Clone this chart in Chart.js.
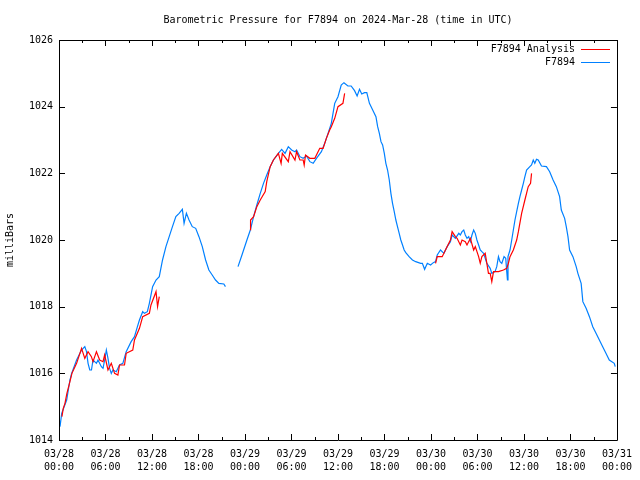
<!DOCTYPE html>
<html>
<head>
<meta charset="utf-8">
<script src="https://cdn.jsdelivr.net/npm/chart.js@4"></script>
<style>
  body { margin: 0; background: #fff; }
</style>
</head>
<body>
<canvas id="chart" width="640" height="480"></canvas>
<script>
// hours since 2024-03-28 00:00 UTC, pressure in mbar (null = gap in the record)
var blueHours = [0.13, 0.35, 0.99, 1.41, 1.63, 2.27, 2.91, 3.33, 3.55, 3.75, 3.97, 4.19, 4.39, 4.83, 5.03, 5.47, 5.68, 5.89, 6.11, 6.32, 6.53, 6.75, 6.96, 7.39, 7.81, 8.24, 8.67, 9.31, 9.74, 10.12, 10.38, 10.80, 11.02, 11.40, 11.66, 12.08, 12.52, 12.94, 13.36, 13.80, 14.22, 14.64, 15.08, 15.50, 15.92, 16.14, 16.44, 16.78, 17.20, 17.64, 18.06, 18.49, 18.92, 19.34, 19.77, 20.20, 20.63, 21.27, 21.48,
  22.3,
  23.10, 23.61, 24.25, 24.69, 25.11, 25.53, 25.97, 26.39, 26.81, 27.25, 27.67, 28.31, 28.73, 29.17, 29.59, 30.02, 30.45, 30.66, 31.09, 31.51, 31.94, 32.37, 32.80, 33.22, 33.86, 34.29, 34.72, 35.14, 35.36, 35.58, 36.00, 36.42, 36.77, 37.28, 37.70, 38.14, 38.47, 38.78, 39.07, 39.42, 39.72, 40.06, 40.48, 40.90, 41.12, 41.34, 41.55, 41.76, 41.98, 42.18, 42.40, 42.62, 42.83, 43.04, 43.26, 43.47, 43.68, 43.90, 44.11, 44.33, 44.54, 44.75, 45.18, 45.61, 46.03, 46.67, 46.89, 47.18, 47.53, 47.95, 48.30, 48.59, 48.81, 49.23, 49.67, 50.09, 50.51, 50.73, 51.15, 51.59, 51.79, 52.01, 52.23, 52.43, 52.65, 52.87, 53.08, 53.29, 53.51, 53.72, 53.93, 54.15, 54.36, 54.57, 54.79, 55.21, 55.64, 55.85, 56.27, 56.49, 56.71, 56.91, 57.14, 57.43, 57.65, 57.78, 57.87, 57.94, 58.20, 58.42, 58.63, 58.84, 59.06, 59.28, 59.48, 59.70, 59.92, 60.12, 60.34, 60.76, 60.98, 61.20, 61.40, 61.62, 61.84, 62.26, 62.90, 63.32, 63.76, 64.18, 64.60, 64.82, 65.25, 65.46, 65.68, 65.89, 66.32, 66.74, 66.96, 67.38, 67.60, 68.02, 68.45, 68.88, 69.30, 69.73, 70.16, 70.58, 71.01, 71.65, 71.78];
var blueValues = [1014.4, 1014.8, 1015.2, 1015.8, 1016.0, 1016.4, 1016.7, 1016.8, 1016.65, 1016.3, 1016.1, 1016.1, 1016.4, 1016.3, 1016.4, 1016.2, 1016.15, 1016.4, 1016.7, 1016.45, 1016.15, 1016.0, 1016.1, 1016.05, 1016.25, 1016.3, 1016.65, 1016.95, 1017.1, 1017.4, 1017.6, 1017.85, 1017.8, 1017.85, 1018.1, 1018.6, 1018.8, 1018.9, 1019.4, 1019.8, 1020.1, 1020.4, 1020.7, 1020.8, 1020.92, 1020.5, 1020.8, 1020.6, 1020.4, 1020.35, 1020.1, 1019.8, 1019.4, 1019.1, 1018.95, 1018.8, 1018.7, 1018.68, 1018.6,
  null,
  1019.2, 1019.55, 1020.0, 1020.3, 1020.7, 1021.05, 1021.4, 1021.7, 1021.95, 1022.2, 1022.4, 1022.6, 1022.72, 1022.6, 1022.8, 1022.7, 1022.65, 1022.7, 1022.5, 1022.45, 1022.52, 1022.35, 1022.3, 1022.45, 1022.65, 1022.9, 1023.2, 1023.5, 1023.8, 1024.1, 1024.3, 1024.65, 1024.72, 1024.62, 1024.62, 1024.48, 1024.32, 1024.52, 1024.38, 1024.42, 1024.42, 1024.1, 1023.9, 1023.7, 1023.4, 1023.2, 1022.95, 1022.85, 1022.6, 1022.3, 1022.1, 1021.8, 1021.4, 1021.1, 1020.85, 1020.6, 1020.4, 1020.2, 1020.0, 1019.85, 1019.7, 1019.62, 1019.5, 1019.4, 1019.35, 1019.3, 1019.3, 1019.12, 1019.3, 1019.25, 1019.32, 1019.35, 1019.55, 1019.7, 1019.6, 1019.8, 1019.95, 1020.15, 1020.05, 1020.2, 1020.15, 1020.25, 1020.3, 1020.15, 1020.05, 1020.1, 1019.95, 1020.15, 1020.3, 1020.2, 1020.0, 1019.85, 1019.7, 1019.65, 1019.6, 1019.3, 1019.15, 1019.0, 1019.05, 1019.2, 1019.5, 1019.35, 1019.3, 1019.5, 1019.45, 1019.05, 1018.8, 1019.5, 1019.7, 1020.0, 1020.3, 1020.6, 1020.85, 1021.1, 1021.3, 1021.5, 1021.7, 1021.9, 1022.1, 1022.2, 1022.25, 1022.4, 1022.3, 1022.42, 1022.4, 1022.22, 1022.2, 1022.05, 1021.8, 1021.6, 1021.3, 1020.9, 1020.65, 1020.4, 1020.1, 1019.7, 1019.5, 1019.2, 1019.0, 1018.7, 1018.15, 1017.95, 1017.7, 1017.4, 1017.2, 1017.0, 1016.8, 1016.6, 1016.4, 1016.3, 1016.2];

var redHours = [0.38, 0.55, 0.77, 1.02, 1.41, 1.67, 2.27, 2.91, 3.33, 3.75, 4.18, 4.39, 4.83, 5.25, 5.68, 5.89, 6.32, 6.75, 7.17, 7.60, 7.81, 8.45, 8.67, 9.52, 9.74, 10.38, 10.80, 11.66, 11.87, 12.52, 12.72, 12.94,
  18.0,
  24.69, 24.72, 25.11, 25.53, 25.97, 26.61, 26.81, 27.25, 27.67, 28.31, 28.66, 28.82, 29.59, 29.81, 30.45, 30.66, 31.09, 31.51, 31.64, 31.81, 32.37, 33.01, 33.65, 34.08, 34.50, 34.93, 35.14, 35.58, 36.00, 36.64, 36.86,
  42.0,
  48.59, 48.81, 49.45, 49.87, 50.51, 50.73, 51.15, 51.37, 51.79, 52.01, 52.43, 52.65, 53.08, 53.51, 53.72, 54.15, 54.36, 54.57, 55.00, 55.21, 55.42, 55.64, 55.85, 56.07, 56.71, 57.35, 57.78, 57.99, 58.20, 58.63, 59.06, 59.28, 59.70, 60.12, 60.55, 60.85, 60.98];
var redValues = [1014.7, 1014.95, 1015.1, 1015.4, 1015.75, 1016.0, 1016.3, 1016.75, 1016.45, 1016.65, 1016.5, 1016.35, 1016.65, 1016.4, 1016.35, 1016.55, 1016.1, 1016.3, 1016.0, 1015.95, 1016.25, 1016.25, 1016.6, 1016.7, 1017.0, 1017.35, 1017.7, 1017.8, 1018.05, 1018.45, 1018.0, 1018.3,
  null,
  1020.3, 1020.6, 1020.7, 1021.0, 1021.2, 1021.45, 1021.75, 1022.2, 1022.4, 1022.6, 1022.3, 1022.6, 1022.35, 1022.65, 1022.4, 1022.65, 1022.4, 1022.4, 1022.25, 1022.55, 1022.45, 1022.45, 1022.75, 1022.75, 1023.05, 1023.3, 1023.4, 1023.65, 1024.0, 1024.1, 1024.4,
  null,
  1019.3, 1019.5, 1019.5, 1019.7, 1020.0, 1020.25, 1020.1, 1020.05, 1019.85, 1020.0, 1019.95, 1019.85, 1020.05, 1019.7, 1019.8, 1019.5, 1019.3, 1019.5, 1019.6, 1019.3, 1019.0, 1019.0, 1018.75, 1019.05, 1019.05, 1019.1, 1019.15, 1019.3, 1019.5, 1019.7, 1020.0, 1020.25, 1020.8, 1021.2, 1021.6, 1021.7, 1022.0];

var xTickDates = ["03/28", "03/28", "03/28", "03/28", "03/29", "03/29", "03/29", "03/29", "03/30", "03/30", "03/30", "03/30", "03/31"];
var xTickTimes = ["00:00", "06:00", "12:00", "18:00", "00:00", "06:00", "12:00", "18:00", "00:00", "06:00", "12:00", "18:00", "00:00"];
var yTicks = [1014, 1016, 1018, 1020, 1022, 1024, 1026];

var MONO = '"DejaVu Sans Mono", "Liberation Mono", monospace';

function toPoints(hours, values) {
  return hours.map(function (h, i) { return { x: h, y: values[i] }; });
}

// gnuplot-style frame, inward ticks, title and legend
var gnuplotLook = {
  id: 'gnuplotLook',
  afterDatasetsDraw: function (chart) {
    var ctx = chart.ctx, a = chart.chartArea;
    var xs = chart.scales.x, ys = chart.scales.y;
    ctx.save();
    ctx.strokeStyle = '#000';
    ctx.lineWidth = 1;
    ctx.beginPath();
    ctx.rect(Math.round(a.left) + 0.5, Math.round(a.top) + 0.5, Math.round(a.right - a.left), Math.round(a.bottom - a.top));
    // x ticks every 3h, major every 6h
    for (var h = 0; h <= 72; h += 3) {
      var px = Math.round(xs.getPixelForValue(h)) + 0.5;
      var len = (h % 6 === 0) ? 6 : 3;
      ctx.moveTo(px, a.bottom); ctx.lineTo(px, a.bottom - len);
      ctx.moveTo(px, a.top); ctx.lineTo(px, a.top + len);
    }
    yTicks.forEach(function (v) {
      var py = Math.round(ys.getPixelForValue(v)) + 0.5;
      ctx.moveTo(a.left, py); ctx.lineTo(a.left + 6, py);
      ctx.moveTo(a.right, py); ctx.lineTo(a.right - 6, py);
    });
    ctx.stroke();
    ctx.restore();
  },
  afterDraw: function (chart) {
    var ctx = chart.ctx, a = chart.chartArea;
    ctx.save();
    ctx.fillStyle = '#000';
    ctx.font = '10px ' + MONO;
    ctx.textBaseline = 'middle';
    ctx.textAlign = 'center';
    ctx.fillText('Barometric Pressure for F7894 on 2024-Mar-28 (time in UTC)', (a.left + a.right) / 2, 20);
    // legend: text right-aligned, sample line to the right
    chart.data.datasets.forEach(function (ds, i) {
      var y = 49.5 + i * 13;
      ctx.textAlign = 'right';
      ctx.fillStyle = '#000';
      ctx.fillText(ds.label, 575, y);
      ctx.strokeStyle = ds.borderColor;
      ctx.lineWidth = 1;
      ctx.beginPath();
      ctx.moveTo(581, y); ctx.lineTo(610, y);
      ctx.stroke();
    });
    ctx.restore();
  }
};

new Chart(document.getElementById('chart'), {
  type: 'line',
  data: {
    datasets: [{
      label: 'F7894 Analysis',
      data: toPoints(redHours, redValues),
      borderColor: 'rgb(255,0,0)',
      borderWidth: 1.2,
      pointRadius: 0,
      tension: 0
    }, {
      label: 'F7894',
      data: toPoints(blueHours, blueValues),
      borderColor: 'rgb(0,128,255)',
      borderWidth: 1.2,
      pointRadius: 0,
      tension: 0
    }]
  },
  options: {
    responsive: false,
    animation: false,
    layout: { padding: { top: 40, right: 19, left: 0, bottom: 0 } },
    plugins: {
      legend: { display: false },
      title: { display: false },
      tooltip: { enabled: false }
    },
    scales: {
      x: {
        type: 'linear',
        min: 0,
        max: 72,
        grid: { display: false, drawTicks: false },
        border: { display: false },
        afterFit: function (s) { s.height = 40; },
        afterBuildTicks: function (s) {
          s.ticks = xTickDates.map(function (d, i) { return { value: i * 6 }; });
        },
        ticks: {
          maxRotation: 0,
          autoSkip: false,
          padding: 8,
          color: '#000',
          font: { family: MONO, size: 10, lineHeight: 1.3 },
          callback: function (v) {
            var i = Math.round(v / 6);
            return [xTickDates[i], xTickTimes[i]];
          }
        }
      },
      y: {
        min: 1014,
        max: 1026,
        grid: { display: false, drawTicks: false },
        border: { display: false },
        afterFit: function (s) { s.width = 59; },
        afterBuildTicks: function (s) {
          s.ticks = yTicks.map(function (v) { return { value: v }; });
        },
        ticks: {
          padding: 6,
          color: '#000',
          font: { family: MONO, size: 10 },
          callback: function (v) { return String(v); }
        },
        title: {
          display: true,
          text: 'milliBars',
          color: '#000',
          font: { family: MONO, size: 10 }
        }
      }
    }
  },
  plugins: [gnuplotLook]
});
</script>
</body>
</html>
